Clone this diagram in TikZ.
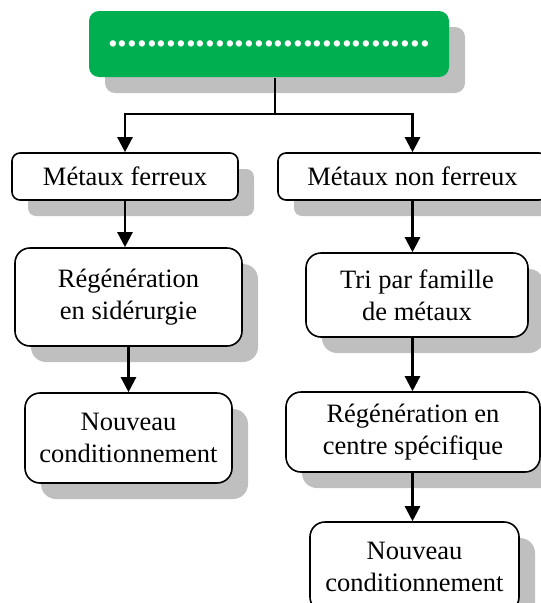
\documentclass[tikz,border=0pt]{standalone}
\usepackage{fontspec}
\setmainfont{LiberationSerif}[Extension=.ttf,UprightFont=*-Regular,BoldFont=*-Bold]
\usetikzlibrary{arrows.meta,shadows}
\definecolor{titlegreen}{RGB}{0,176,80}

\begin{document}
\begin{tikzpicture}[x=1pt,y=-1pt]
            \clip (0,0) rectangle (541,603);
            \begin{scope}[every node/.style={draw=black,line width=1.6pt,fill=white,rounded corners=8pt,
                          align=center,inner sep=0pt,font=\fontsize{26.5}{32}\selectfont,
                          drop shadow={shadow xshift=16pt,shadow yshift=-16pt,fill=black!25,opacity=1}}]
                \node (title) [fill=titlegreen,draw=none,rounded corners=10pt,minimum width=360pt,minimum height=66pt,
                      text=white,font=\fontsize{39}{40}\selectfont\bfseries] at (269,44) {\raisebox{-6pt}{.................................}};
                \node (ferreux) [minimum width=226pt,minimum height=47pt] at (125,176.5) {Métaux ferreux};
                \node (nonferreux) [minimum width=269pt,minimum height=47pt] at (412.5,176.5) {Métaux non ferreux};
                \node (regen) [rounded corners=15pt,minimum width=227pt,minimum height=98pt] at (128.5,297) {Régénération\\en sidérurgie};
                \node (nouveau) [rounded corners=15pt,minimum width=207pt,minimum height=90pt] at (128.5,438) {Nouveau\\conditionnement};
                \node (tri) [rounded corners=15pt,minimum width=222pt,minimum height=84pt] at (417,295) {Tri par famille\\de métaux};
                \node (centre) [rounded corners=15pt,minimum width=254pt,minimum height=80pt] at (413,432) {Régénération en\\centre spécifique};
                \node (nouveau') [rounded corners=15pt,minimum width=209pt,minimum height=90pt] at (414.5,567) {Nouveau\\conditionnement};
            \end{scope}

            \coordinate (split) at (275,114);

            \begin{scope}[line width=2.4pt,>={Triangle[length=15pt,width=15pt]}]
                \draw (title.south -| split) -- (split);
                \draw [->] (split) -| (ferreux.north);
                \draw [->] (split) -| (nonferreux.north);
                \draw [->] (ferreux.south) -- (ferreux.south |- regen.north);
                \draw [->] (regen.south) -- (regen.south |- nouveau.north);
                \draw [->] (nonferreux.south) -- (nonferreux.south |- tri.north);
                \draw [->] (tri.south -| nonferreux.south) -- (nonferreux.south |- centre.north);
                \draw [->] (centre.south -| nonferreux.south) -- (nonferreux.south |- nouveau'.north);
            \end{scope}
        \end{tikzpicture}
\end{document}
